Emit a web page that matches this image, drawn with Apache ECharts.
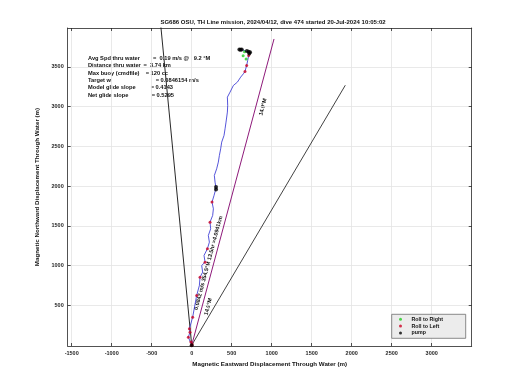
<!DOCTYPE html>
<html><head><meta charset="utf-8">
<script src="https://cdn.jsdelivr.net/npm/echarts@6/dist/echarts.min.js"></script>
<style>html,body{margin:0;padding:0;background:#fff}#c{width:520px;height:390px}</style>
</head><body><div id="c"></div>
<script>
const titleText = 'SG686 OSU, TH Line mission, 2024/04/12, dive 474 started 20-Jul-2024 10:05:02';
const xAxisName = 'Magnetic Eastward Displacement Through Water (m)';
const yAxisName = 'Magnetic Northward Displacement Through Water (m)';
const xTicks = [-1500, -1000, -500, 0, 500, 1000, 1500, 2000, 2500, 3000];
const yTicks = [500, 1000, 1500, 2000, 2500, 3000, 3500];

const trackE = [0, -42, -21, -29, 12, 62, 96, 104, 137, 125, 167, 154, 196, 221, 208, 237, 229, 262, 271, 254, 279, 304, 292, 283, 312, 333, 346, 362, 375, 404, 417, 429, 446, 450, 446, 479, 521, 571, 612, 646, 666, 687, 700, 712, 729, 687, 625, 596];
const trackN = [0, 101, 164, 206, 353, 626, 751, 856, 919, 1003, 1045, 1129, 1213, 1296, 1380, 1464, 1548, 1632, 1716, 1800, 1883, 1976, 2051, 2135, 2219, 2303, 2387, 2470, 2554, 2638, 2722, 2806, 2932, 3016, 3120, 3183, 3267, 3309, 3372, 3414, 3443, 3519, 3582, 3645, 3686, 3695, 3720, 3720];

const rollRightE = [643, 680, 660];
const rollRightN = [3640, 3600, 3690];
const rollLeftE = [-42, -21, -29, -10, 5, 0, 12, 62, 104, 167, 196, 229, 254, 666, 687, 712];
const rollLeftN = [101, 164, 206, 40, 15, -5, 353, 626, 856, 1045, 1213, 1548, 1800, 3443, 3519, 3645];
const pumpE = [0, 304, 304, 596, 610, 625, 690, 712, 729, 720];
const pumpN = [0, 1960, 1990, 3720, 3715, 3720, 3700, 3690, 3686, 3670];

const headingLineE = [0, 1029];
const headingLineN = [0, 3852];
const currentLineE = [0, -392];
const currentLineN = [0, 4075];
const thinLineE = [0, 1920];
const thinLineN = [0, 3270];

const currentLabel = '0.0842 m/s 354.5°M 13.5hr ≈4.0941km';
const headingLabel = '14.9°M';
const infoLabels = ['Avg Spd thru water', 'Distance thru water', 'Max buoy (cmdfile)', 'Target w', 'Model glide slope', 'Net glide slope'];
const infoValues = ['=  0.19 m/s @   9.2 °M', '=  3.74 km', '= 120 cc', '= 0.0846154 m/s', '= 0.4143', '= 0.5295'];
const legendNames = ['Roll to Right', 'Roll to Left', 'pump'];

const zip = (a, b) => a.map((v, i) => [v, b[i]]);
const FONT = 'Liberation Sans';
const AX = '#262626';

const chart = echarts.init(document.getElementById('c'), null, {renderer: 'canvas'});

function axisCommon(ticks, showLabel) {
  return {
    axisLine: {show: true, onZero: false, lineStyle: {color: AX, width: 0.8}},
    axisTick: {show: true, inside: true, length: 3, customValues: ticks, lineStyle: {color: AX, width: 0.8}},
    axisLabel: {show: showLabel, customValues: ticks, formatter: v => String(v), fontSize: 5.5, fontFamily: FONT, fontWeight: 'bold', color: AX, margin: 4},
    splitLine: {show: showLabel, lineStyle: {color: '#e3e3e3', width: 0.8}}
  };
}

const valueXs = [153, 143.5, 145.7, 155.7, 150.7, 151.7];
const graphics = [];
infoLabels.forEach((t, i) => {
  const y = 58.3 + i * 7.35;
  graphics.push({type: 'text', x: 88, y: y, style: {text: t, fontSize: 5.7, fontFamily: FONT, fontWeight: 'bold', fill: '#111', verticalAlign: 'middle'}});
  graphics.push({type: 'text', x: valueXs[i], y: y, style: {text: infoValues[i], fontSize: 5.7, fontFamily: FONT, fontWeight: 'bold', fill: '#111', verticalAlign: 'middle'}});
});
const rot = 75.1 * Math.PI / 180;
graphics.push({type: 'text', x: 208.5, y: 263, rotation: rot, style: {text: currentLabel, fontSize: 5.5, fontFamily: FONT, fontWeight: 'bold', fill: '#111', align: 'center', verticalAlign: 'middle'}});
graphics.push({type: 'text', x: 263, y: 107, rotation: rot, style: {text: headingLabel, fontSize: 5.5, fontFamily: FONT, fontWeight: 'bold', fill: '#111', align: 'center', verticalAlign: 'middle'}});
graphics.push({type: 'text', x: 208.3, y: 306.7, rotation: rot, style: {text: headingLabel, fontSize: 5.5, fontFamily: FONT, fontWeight: 'bold', fill: '#111', align: 'center', verticalAlign: 'middle'}});
graphics.push({type: 'rect', shape: {x: 391.7, y: 314.3, width: 74, height: 24}, style: {fill: '#ececec', stroke: '#6e6e6e', lineWidth: 0.8}, z: 50});

chart.setOption({
  animation: false,
  backgroundColor: '#fff',
  title: {text: titleText, left: 268, top: 14, textAlign: 'center', textStyle: {fontSize: 6, fontFamily: FONT, fontWeight: 'bold', color: '#111'}},
  grid: {left: 67.7, top: 28, width: 404, height: 318, containLabel: false},
  xAxis: [
    Object.assign({type: 'value', min: -1550, max: 3500, position: 'bottom',
      name: xAxisName, nameLocation: 'middle', nameGap: 13,
      nameTextStyle: {fontSize: 6.2, fontFamily: FONT, fontWeight: 'bold', color: '#111'}}, axisCommon(xTicks, true)),
    Object.assign({type: 'value', min: -1550, max: 3500, position: 'top'}, axisCommon(xTicks, false))
  ],
  yAxis: [
    Object.assign({type: 'value', min: -10, max: 3990, position: 'left',
      name: yAxisName, nameLocation: 'middle', nameGap: 17,
      nameTextStyle: {fontSize: 6.2, fontFamily: FONT, fontWeight: 'bold', color: '#111'}}, axisCommon(yTicks, true)),
    Object.assign({type: 'value', min: -10, max: 3990, position: 'right'}, axisCommon(yTicks, false))
  ],
  legend: {
    data: legendNames, orient: 'vertical', left: 399, top: 316, itemWidth: 20, itemHeight: 3, itemGap: 0.5,
    padding: 0, z: 60, selectedMode: false,
    textStyle: {fontSize: 5.3, fontFamily: FONT, fontWeight: 'bold', color: '#111', lineHeight: 6.4, padding: [0, 0, 0, -4]}
  },
  graphic: graphics,
  series: [
    {type: 'line', data: zip(currentLineE, currentLineN), symbol: 'none', lineStyle: {color: '#111', width: 0.9}, clip: true, z: 2},
    {type: 'line', data: zip(thinLineE, thinLineN), symbol: 'none', lineStyle: {color: '#111', width: 0.8}, clip: true, z: 2},
    {type: 'line', data: zip(headingLineE, headingLineN), symbol: 'none', lineStyle: {color: '#8e1a7a', width: 1}, clip: true, z: 3},
    {type: 'line', data: zip(trackE, trackN), symbol: 'none', lineStyle: {color: '#2b2bd0', width: 0.8}, clip: true, z: 4},
    {name: 'Roll to Right', type: 'scatter', data: zip(rollRightE, rollRightN), symbol: 'circle', symbolSize: 3, itemStyle: {color: '#22cc22'}, z: 5},
    {name: 'Roll to Left', type: 'scatter', data: zip(rollLeftE, rollLeftN), symbol: 'circle', symbolSize: 3, itemStyle: {color: '#cc0022'}, z: 5},
    {name: 'pump', type: 'scatter', data: zip(pumpE, pumpN), symbol: 'circle', symbolSize: 4, itemStyle: {color: '#000'}, z: 6}
  ]
});
</script></body></html>
